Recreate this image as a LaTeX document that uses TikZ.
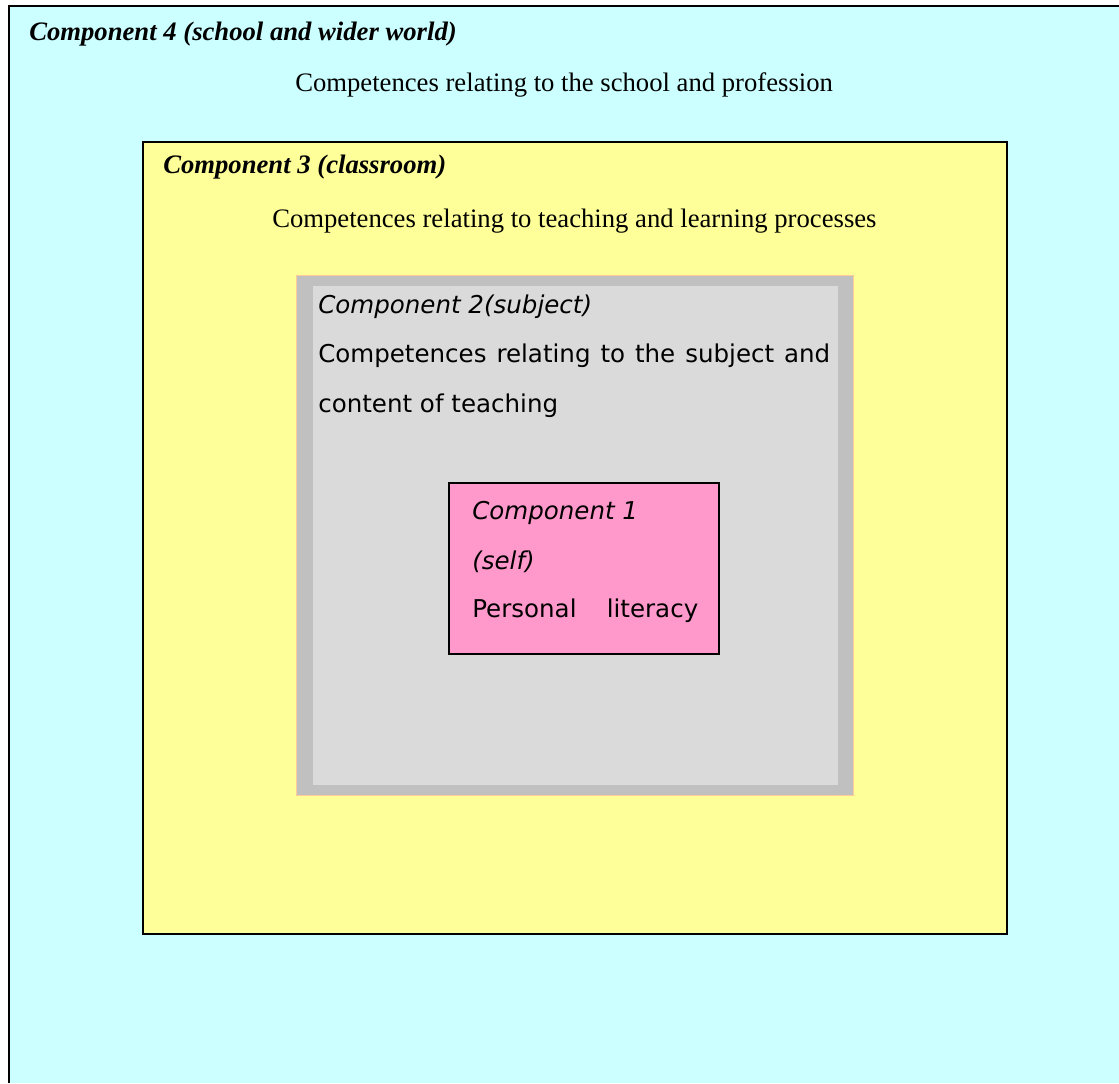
\documentclass[tikz,border=0pt]{standalone}
\usepackage{fontspec}
\setmainfont{Liberation Serif}
\newfontfamily\verdanalike{DejaVu Sans}
\definecolor{worldcyan}{HTML}{CCFFFF}
\definecolor{roomyellow}{HTML}{FFFF99}
\definecolor{subjgray}{HTML}{C0C0C0}
\definecolor{subjlight}{HTML}{DADADA}
\definecolor{subjedge}{HTML}{FFCC99}
\definecolor{selfpink}{HTML}{FF99CC}

\begin{document}
\begin{tikzpicture}[x=0.75pt,y=-0.75pt,
    serif/.style={anchor=base west,inner sep=0pt,font=\fontsize{20}{24}\selectfont},
    sans/.style={anchor=base west,inner sep=0pt,font=\verdanalike\fontsize{18.4}{22}\selectfont}]
    \useasboundingbox (0,0) rectangle (1119,1083);
    % component 4
    \fill[worldcyan](9,6) rectangle (1119,1083);
    \draw[line width=1.5pt](9,1083)--(9,6)--(1119,6);
    \node[serif] (worldtitle) at (29,40) {\textbf{\textit{Component 4 (school and wider world)}}};
    \node[serif] (worldtext) at (295,91) {Competences relating to the school and profession};
    % component 3
    \draw[line width=1.5pt,fill=roomyellow](143,142) rectangle (1007,934);
    \node[serif] (roomtitle) at (163,173) {\textbf{\textit{Component 3 (classroom)}}};
    \node[serif] (roomtext) at (272,227) {Competences relating to teaching and learning processes};
    % component 2
    \draw[subjedge,fill=subjgray](296.5,275.5) rectangle (853.5,795);
    \fill[subjlight](313,286) rectangle (838,785);
    \node[sans] (subjtitle) at (318,313) {\textit{Component 2(subject)}};
    \node[sans] (subjline) at (318,362) {\makebox[384pt][s]{Competences relating to the subject and}};
    \node[sans] (subjcontent) at (318,412) {content of teaching};
    % component 1
    \draw[line width=1pt,fill=selfpink](449,483) rectangle (719,654);
    \node[sans] (selftitle) at (472,519) {\textit{Component 1}};
    \node[sans] (selfname) at (472,569) {\textit{(self)}};
    \node[sans] (selftext) at (472,617) {\makebox[169.5pt][s]{Personal literacy}};
\end{tikzpicture}
\end{document}
